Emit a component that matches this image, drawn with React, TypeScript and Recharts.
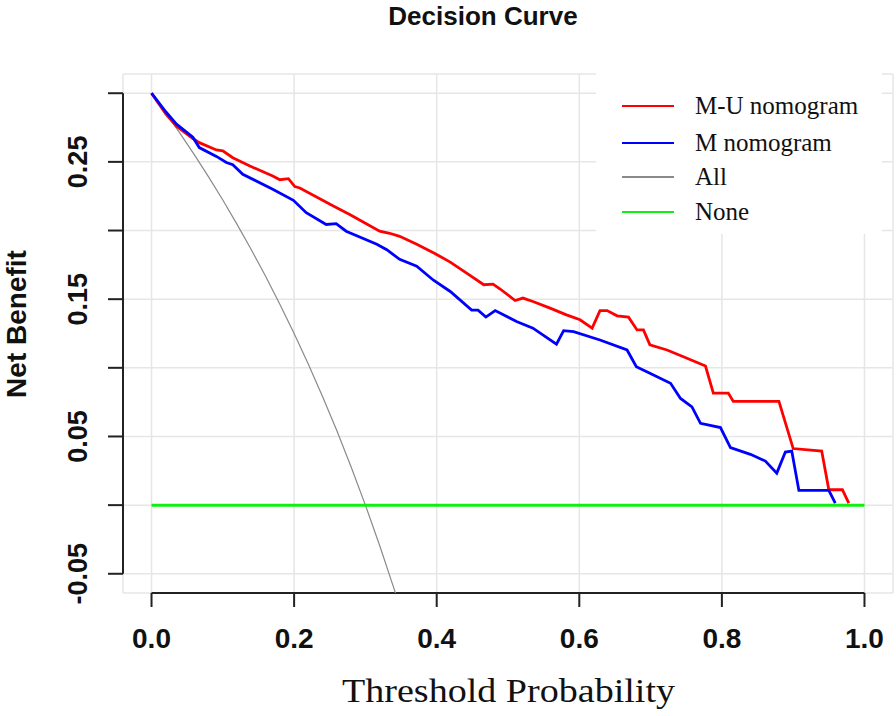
import {
  LineChart,
  Line,
  XAxis,
  YAxis,
  CartesianGrid,
  ReferenceLine,
  Legend,
} from 'recharts';

// threshold probabilities / net benefit
const muThreshold = [
  0, 0.02, 0.035, 0.058, 0.067, 0.091, 0.1, 0.114, 0.138, 0.17, 0.18, 0.192, 0.201, 0.208,
  0.255, 0.278, 0.32, 0.334, 0.348, 0.372, 0.396, 0.419, 0.442, 0.466, 0.479, 0.489, 0.51,
  0.521, 0.535, 0.559, 0.582, 0.601, 0.618, 0.629, 0.639, 0.653, 0.669, 0.681, 0.69, 0.699,
  0.723, 0.746, 0.777, 0.788, 0.809, 0.816, 0.88, 0.9, 0.94, 0.95, 0.969, 0.978,
];
const muNetBenefit = [
  0.3, 0.285, 0.276, 0.267, 0.264, 0.2587, 0.258, 0.253, 0.247, 0.2397, 0.237, 0.2378, 0.232,
  0.231, 0.2178, 0.2117, 0.1995, 0.198, 0.1958, 0.19, 0.1837, 0.177, 0.169, 0.1605, 0.161,
  0.1574, 0.149, 0.1508, 0.1483, 0.1435, 0.1386, 0.135, 0.1289, 0.1417, 0.1417, 0.1379,
  0.1369, 0.1276, 0.1276, 0.1167, 0.113, 0.1081, 0.1013, 0.0816, 0.0816, 0.0755, 0.0755,
  0.0412, 0.0394, 0.0112, 0.0112, 0.0014,
];

const mThreshold = [
  0, 0.02, 0.035, 0.058, 0.067, 0.091, 0.105, 0.114, 0.128, 0.17, 0.199, 0.217, 0.245, 0.259,
  0.273, 0.316, 0.33, 0.348, 0.372, 0.395, 0.419, 0.449, 0.458, 0.469, 0.482, 0.512, 0.535,
  0.568, 0.578, 0.592, 0.629, 0.667, 0.68, 0.699, 0.728, 0.742, 0.758, 0.77, 0.798, 0.812,
  0.84, 0.861, 0.877, 0.889, 0.898, 0.908, 0.95, 0.959,
];
const mNetBenefit = [
  0.3, 0.2865, 0.2775, 0.268, 0.2604, 0.254, 0.2495, 0.248, 0.241, 0.23, 0.222, 0.213, 0.2044,
  0.205, 0.1995, 0.19, 0.186, 0.179, 0.174, 0.164, 0.1556, 0.142, 0.142, 0.137, 0.1417, 0.1337,
  0.1289, 0.1172, 0.1271, 0.1264, 0.1203, 0.113, 0.1008, 0.096, 0.0887, 0.0777, 0.0716, 0.0596,
  0.0565, 0.0419, 0.037, 0.0321, 0.0233, 0.0387, 0.0394, 0.0107, 0.0107, 0.0014,
];

const allThreshold = [
  0, 0.02, 0.04, 0.06, 0.08, 0.1, 0.12, 0.14, 0.16, 0.18, 0.2, 0.22, 0.24, 0.26, 0.28, 0.3,
  0.32, 0.34, 0.36,
];
const allNetBenefit = [
  0.3, 0.2857, 0.2708, 0.2553, 0.2391, 0.2222, 0.2045, 0.186, 0.1667, 0.1463, 0.125, 0.1026,
  0.0789, 0.0541, 0.0278, 0, -0.0294, -0.0606, -0.0938,
];

const noneThreshold = [0, 1];
const noneNetBenefit = [0, 0];

const xTicks = [0, 0.2, 0.4, 0.6, 0.8, 1.0];
const yTicks = [-0.05, 0, 0.05, 0.1, 0.15, 0.2, 0.25, 0.3];
const yLabelled = [-0.05, 0.05, 0.15, 0.25];
const legendOrder = ['M-U nomogram', 'M nomogram', 'All', 'None'];

const toRows = (ts: number[], vs: number[]) => ts.map((t, i) => ({ t, nb: vs[i] }));

const SANS = '"Liberation Sans", Arial, Helvetica, sans-serif';
const SERIF = '"Liberation Serif", "Times New Roman", Times, serif';
const X_MIN = -0.04;
const Y_MIN = -0.064;

const XTick = ({ x, y, payload }: any) => (
  <text x={x} y={y + 41} textAnchor="middle" fontFamily={SANS} fontSize={28} fontWeight="bold" fill="#111">
    {payload.value.toFixed(1)}
  </text>
);

const YTick = ({ x, y, payload }: any) => {
  if (!yLabelled.includes(payload.value)) return null;
  return (
    <text
      transform={`translate(${x - 21}, ${y}) rotate(-90)`}
      textAnchor="middle"
      fontFamily={SANS}
      fontSize={27}
      fontWeight="bold"
      fill="#111"
    >
      {payload.value.toFixed(2)}
    </text>
  );
};

const LegendBox = ({ payload }: any) => {
  const items = [...(payload ?? [])].sort(
    (a: any, b: any) => legendOrder.indexOf(a.value) - legendOrder.indexOf(b.value),
  );
  const rows = [34, 71, 105, 140];
  return (
    <svg width={286} height={162} style={{ display: 'block', background: '#fff' }}>
      {items.map((it: any, i: number) => (
        <g key={it.value}>
          <line x1={26} x2={78} y1={rows[i]} y2={rows[i]} stroke={it.color} strokeWidth={2} />
          <text x={99} y={rows[i] + 8} fontFamily={SERIF} fontSize={25} fill="#111">
            {it.value}
          </text>
        </g>
      ))}
    </svg>
  );
};

export default function App() {
  return (
    <div style={{ position: 'absolute', left: 0, top: 0, width: 896, height: 716, background: '#fff' }}>
      <LineChart width={896} height={716} margin={{ top: 74, right: 3, bottom: 0, left: 0 }}>
        <CartesianGrid stroke="#e6e6e6" strokeWidth={1.5} />
        <XAxis
          type="number"
          dataKey="t"
          domain={[X_MIN, 1.04]}
          ticks={xTicks}
          allowDataOverflow
          height={123}
          axisLine={false}
          tickLine={{ stroke: '#222', strokeWidth: 2 }}
          tickSize={14}
          tickMargin={0}
          tick={<XTick />}
        />
        <YAxis
          type="number"
          domain={[Y_MIN, 0.314]}
          ticks={yTicks}
          allowDataOverflow
          width={123}
          axisLine={false}
          tickLine={{ stroke: '#222', strokeWidth: 2 }}
          tickSize={15}
          tickMargin={0}
          tick={<YTick />}
        />
        <ReferenceLine
          segment={[{ x: 0, y: Y_MIN }, { x: 1, y: Y_MIN }]}
          stroke="#222"
          strokeWidth={2}
          ifOverflow="visible"
        />
        <ReferenceLine
          segment={[{ x: X_MIN, y: -0.05 }, { x: X_MIN, y: 0.3 }]}
          stroke="#222"
          strokeWidth={2}
          ifOverflow="visible"
        />
        <Line
          data={toRows(allThreshold, allNetBenefit)}
          dataKey="nb"
          name="All"
          stroke="#8a8a8a"
          strokeWidth={1.2}
          dot={false}
          isAnimationActive={false}
        />
        <Line
          data={toRows(noneThreshold, noneNetBenefit)}
          dataKey="nb"
          name="None"
          stroke="#11ee11"
          strokeWidth={3}
          dot={false}
          isAnimationActive={false}
        />
        <Line
          data={toRows(muThreshold, muNetBenefit)}
          dataKey="nb"
          name="M-U nomogram"
          stroke="#ff0000"
          strokeWidth={2.8}
          dot={false}
          isAnimationActive={false}
        />
        <Line
          data={toRows(mThreshold, mNetBenefit)}
          dataKey="nb"
          name="M nomogram"
          stroke="#0000ff"
          strokeWidth={2.8}
          dot={false}
          isAnimationActive={false}
        />
        <Legend
          layout="vertical"
          align="center"
          verticalAlign="middle"
          content={<LegendBox />}
          wrapperStyle={{ left: 596, top: 72, width: 286, height: 162 }}
        />
      </LineChart>
      <svg
        width={896}
        height={716}
        style={{ position: 'absolute', left: 0, top: 0, pointerEvents: 'none' }}
      >
        <text x={483} y={25} textAnchor="middle" fontFamily={SANS} fontSize={26} fontWeight="bold" fill="#111">
          Decision Curve
        </text>
        <text
          x={342}
          y={702}
          fontFamily={SERIF}
          fontSize={34}
          textLength={333}
          lengthAdjust="spacingAndGlyphs"
          fill="#111"
        >
          Threshold Probability
        </text>
        <text
          transform="translate(26, 324) rotate(-90)"
          textAnchor="middle"
          fontFamily={SANS}
          fontSize={28}
          fontWeight="bold"
          fill="#111"
        >
          Net Benefit
        </text>
      </svg>
    </div>
  );
}
